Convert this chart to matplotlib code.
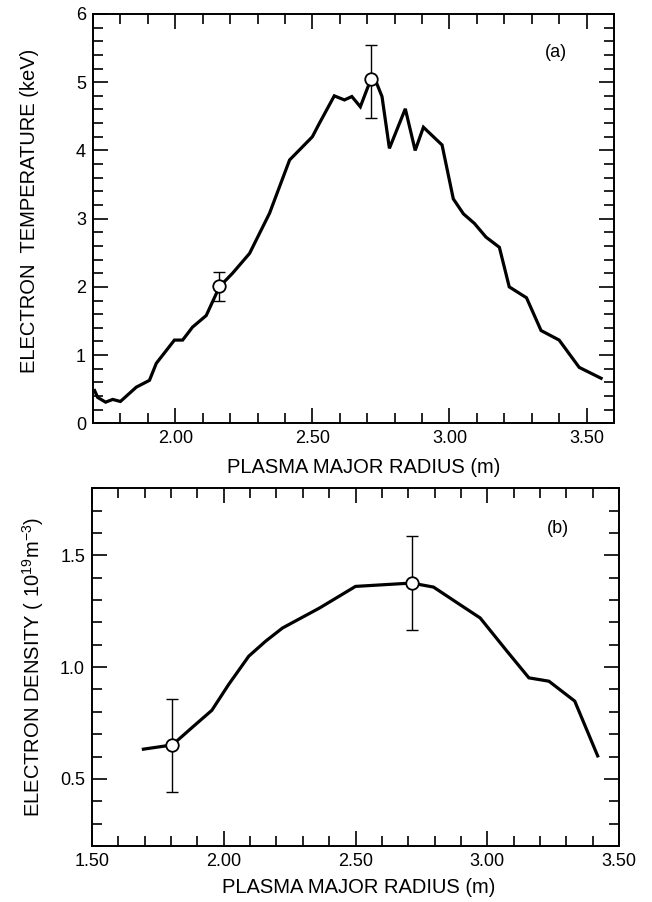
import numpy as np
import matplotlib.pyplot as plt
from matplotlib.ticker import MultipleLocator, FixedLocator

plt.rcParams['font.family'] = ['Liberation Sans', 'DejaVu Sans']
plt.rcParams['mathtext.default'] = 'regular'

# (a) electron temperature profile
r_te = [1.706, 1.717, 1.746, 1.772, 1.80, 1.858, 1.906, 1.931, 1.997, 2.027,
        2.063, 2.113, 2.161, 2.209, 2.271, 2.344, 2.417, 2.50, 2.526, 2.58,
        2.617, 2.644, 2.675, 2.714, 2.733, 2.754, 2.781, 2.839, 2.875, 2.905,
        2.973, 3.014, 3.051, 3.091, 3.133, 3.182, 3.218, 3.281, 3.334, 3.40,
        3.473, 3.553]
te = [0.48, 0.38, 0.31, 0.35, 0.32, 0.53, 0.63, 0.88, 1.22, 1.22,
      1.41, 1.58, 2.0, 2.2, 2.49, 3.08, 3.86, 4.2, 4.4, 4.8,
      4.74, 4.79, 4.64, 5.05, 5.0, 4.79, 4.03, 4.61, 4.0, 4.34,
      4.08, 3.29, 3.07, 2.93, 2.73, 2.58, 2.0, 1.84, 1.36, 1.22,
      0.82, 0.66]
r_te_pts = [2.16, 2.714]
te_pts = [2.02, 5.04]
te_lo = [1.79, 4.48]
te_hi = [2.22, 5.55]

# (b) electron density profile
r_ne = [1.695, 1.805, 1.879, 1.955, 2.019, 2.095, 2.159, 2.223, 2.363, 2.50,
        2.713, 2.796, 2.897, 2.973, 3.075, 3.158, 3.234, 3.332, 3.419]
ne = [0.633, 0.652, 0.729, 0.807, 0.923, 1.049, 1.116, 1.175, 1.264, 1.361,
      1.376, 1.358, 1.279, 1.220, 1.071, 0.952, 0.937, 0.848, 0.603]
r_ne_pts = [1.805, 2.713]
ne_pts = [0.652, 1.376]
ne_lo = [0.443, 1.165]
ne_hi = [0.859, 1.587]


def style_axis(ax):
    for s in ax.spines.values():
        s.set_linewidth(1.4)
    ax.tick_params(which='both', direction='in', top=True, right=True,
                   width=1.2, labelsize=13, pad=5)
    ax.tick_params(which='major', length=11)
    ax.tick_params(which='minor', length=7)


def draw_points(ax, x, y, lo, hi):
    y = np.array(y)
    yerr = [y - np.array(lo), np.array(hi) - y]
    ax.errorbar(x, y, yerr=yerr, fmt='none', ecolor='black', elinewidth=1.0,
                capsize=4, capthick=1.0, zorder=3)
    ax.plot(x, y, 'o', ms=9, mfc='white', mec='black', mew=1.3, zorder=4)


fig = plt.figure(figsize=(6.52, 9.02), dpi=100)

ax1 = fig.add_axes([0.1426, 0.5307, 0.7991, 0.4538])
ax1.plot(r_te, te, color='black', lw=2.3, solid_joinstyle='miter', zorder=2)
draw_points(ax1, r_te_pts, te_pts, te_lo, te_hi)
ax1.set_xlim(1.70, 3.60)
ax1.set_ylim(0, 6)
ax1.xaxis.set_major_locator(FixedLocator([2.0, 2.5, 3.0, 3.5]))
ax1.xaxis.set_minor_locator(MultipleLocator(0.1))
ax1.set_xticklabels(['2.00', '2.50', '3.00', '3.50'])
ax1.yaxis.set_major_locator(MultipleLocator(1))
ax1.yaxis.set_minor_locator(MultipleLocator(0.2))
style_axis(ax1)
ax1.text(3.39, 5.43, '(a)', fontsize=13, ha='center', va='center')
ax1.set_xlabel('PLASMA MAJOR RADIUS (m)', fontsize=14.5, va='center')
ax1.xaxis.set_label_coords(0.52, -0.109)
ax1.set_ylabel('ELECTRON  TEMPERATURE (keV)', fontsize=14.5, va='center')
ax1.yaxis.set_label_coords(-0.121, 0.52)

ax2 = fig.add_axes([0.1411, 0.0621, 0.8083, 0.3966])
ax2.plot(r_ne, ne, color='black', lw=2.3, solid_joinstyle='miter', zorder=2)
draw_points(ax2, r_ne_pts, ne_pts, ne_lo, ne_hi)
ax2.set_xlim(1.50, 3.50)
ax2.set_ylim(0.2, 1.8)
ax2.xaxis.set_major_locator(FixedLocator([1.5, 2.0, 2.5, 3.0, 3.5]))
ax2.xaxis.set_minor_locator(MultipleLocator(0.1))
ax2.set_xticklabels(['1.50', '2.00', '2.50', '3.00', '3.50'])
ax2.yaxis.set_major_locator(FixedLocator([0.5, 1.0, 1.5]))
ax2.yaxis.set_minor_locator(MultipleLocator(0.1))
ax2.set_yticklabels(['0.5', '1.0', '1.5'])
style_axis(ax2)
ax2.text(3.27, 1.62, '(b)', fontsize=13, ha='center', va='center')
ax2.set_xlabel('PLASMA MAJOR RADIUS (m)', fontsize=14.5, va='center')
ax2.xaxis.set_label_coords(0.506, -0.117)
ax2.set_ylabel(r'ELECTRON DENSITY ( 10$^{19}$m$^{-3}$)', fontsize=14.5,
               va='center')
ax2.yaxis.set_label_coords(-0.112, 0.5)

fig.savefig('out.png', dpi=100)
